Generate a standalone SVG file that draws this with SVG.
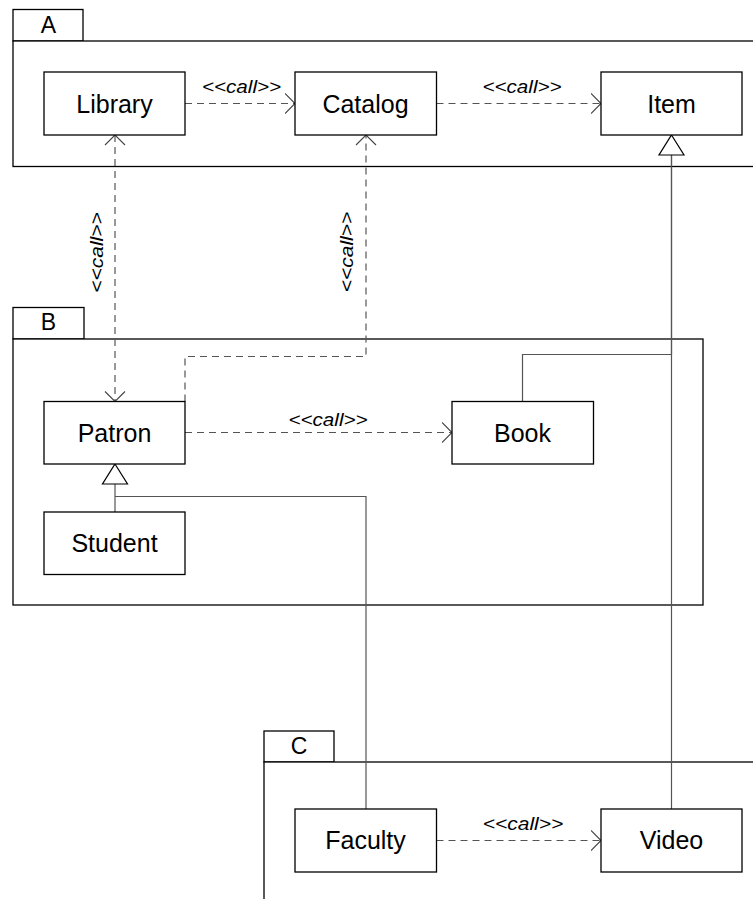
<svg xmlns="http://www.w3.org/2000/svg" width="753" height="899" viewBox="0 0 753 899">
  <style>
    .pkg { fill: #fff; stroke: #000; stroke-width: 1.3; }
    .cls { fill: #fff; stroke: #000; stroke-width: 1.3; }
    .name { font-family: "Liberation Sans", Arial, sans-serif; font-size: 25px; fill: #000; text-anchor: middle; }
    .tab { font-family: "Liberation Sans", Arial, sans-serif; font-size: 23px; fill: #000; text-anchor: middle; }
    .lbl { font-family: "Liberation Sans", Arial, sans-serif; font-size: 17.5px; font-style: italic; fill: #000; text-anchor: middle; }
    .dep { fill: none; stroke: #555; stroke-width: 1.2; stroke-dasharray: 7 5; }
    .gen { fill: none; stroke: #555; stroke-width: 1.2; }
    .tri { fill: #fff; stroke: #000; stroke-width: 1.2; }
  </style>
  <defs>
    <marker id="open" markerUnits="userSpaceOnUse" viewBox="0 0 11 22" refX="10.5" refY="11" markerWidth="11" markerHeight="22" orient="auto-start-reverse">
      <path d="M0.5,1 L10.5,11 L0.5,21" fill="none" stroke="#444" stroke-width="1.1"/>
    </marker>
  </defs>

  <rect width="753" height="899" fill="#fff"/>

  <!-- package A -->
  <g id="pkg-A">
    <rect class="pkg" x="13" y="9.5" width="70" height="31.5"/>
    <rect class="pkg" x="13" y="41" width="760" height="125.5"/>
    <text class="tab" x="48.5" y="33">A</text>
  </g>

  <!-- package B -->
  <g id="pkg-B">
    <rect class="pkg" x="13" y="307.5" width="71" height="31.5"/>
    <rect class="pkg" x="13" y="339" width="690" height="266"/>
    <text class="tab" x="48.5" y="330">B</text>
  </g>

  <!-- package C -->
  <g id="pkg-C">
    <rect class="pkg" x="264" y="731" width="70" height="31"/>
    <rect class="pkg" x="264" y="762" width="520" height="160"/>
    <text class="tab" x="299" y="754">C</text>
  </g>

  <!-- connectors -->
  <g id="connectors">
    <!-- dependencies -->
    <path class="dep" d="M185,103.5 H295" marker-end="url(#open)"/>
    <path class="dep" d="M436.5,103.5 H601" marker-end="url(#open)"/>
    <path class="dep" d="M115,135 V401.5" marker-start="url(#open)" marker-end="url(#open)"/>
    <path class="dep" d="M185,401.5 V356.5 H366 V135" marker-end="url(#open)"/>
    <path class="dep" d="M185,432.5 H452" marker-end="url(#open)"/>
    <path class="dep" d="M436.5,840.5 H601" marker-end="url(#open)"/>

    <!-- generalizations -->
    <path class="gen" d="M522.5,401.5 V354.5 H671.5 V155"/>
    <path class="gen" d="M671.5,809 V155"/>
    <path class="gen" d="M115,512 V484"/>
    <path class="gen" d="M366,809 V496.5 H115"/>
    <path class="tri" d="M671.5,135 L684,155 L659,155 Z"/>
    <path class="tri" d="M115,464 L127.5,484 L102.5,484 Z"/>

    <!-- stereotype labels (slightly widened glyphs) -->
    <text class="lbl" transform="translate(241.5,93) scale(1.18,1)">&lt;&lt;call&gt;&gt;</text>
    <text class="lbl" transform="translate(522,93) scale(1.18,1)">&lt;&lt;call&gt;&gt;</text>
    <text class="lbl" transform="translate(328,426) scale(1.18,1)">&lt;&lt;call&gt;&gt;</text>
    <text class="lbl" transform="translate(523,830) scale(1.2,1)">&lt;&lt;call&gt;&gt;</text>
    <text class="lbl" transform="translate(103,252.5) rotate(-90) scale(1.2,1)">&lt;&lt;call&gt;&gt;</text>
    <text class="lbl" transform="translate(353,252) rotate(-90) scale(1.2,1)">&lt;&lt;call&gt;&gt;</text>
  </g>

  <!-- classes -->
  <g id="Library">
    <rect class="cls" x="44" y="72" width="141" height="63"/>
    <text class="name" x="114.5" y="112.5">Library</text>
  </g>
  <g id="Catalog">
    <rect class="cls" x="295" y="72" width="141.5" height="63"/>
    <text class="name" x="365.5" y="112.5">Catalog</text>
  </g>
  <g id="Item">
    <rect class="cls" x="601" y="72" width="141" height="63"/>
    <text class="name" x="671.5" y="112.5">Item</text>
  </g>
  <g id="Patron">
    <rect class="cls" x="44" y="401.5" width="141" height="62.5"/>
    <text class="name" x="114.5" y="441.5">Patron</text>
  </g>
  <g id="Book">
    <rect class="cls" x="452" y="401.5" width="141.5" height="62.5"/>
    <text class="name" x="522.5" y="441.5">Book</text>
  </g>
  <g id="Student">
    <rect class="cls" x="44" y="512" width="141" height="62.5"/>
    <text class="name" x="114.5" y="552">Student</text>
  </g>
  <g id="Faculty">
    <rect class="cls" x="295" y="809" width="141.5" height="63"/>
    <text class="name" x="365.5" y="849">Faculty</text>
  </g>
  <g id="Video">
    <rect class="cls" x="601" y="809" width="141" height="63"/>
    <text class="name" x="671.5" y="849">Video</text>
  </g>
</svg>
